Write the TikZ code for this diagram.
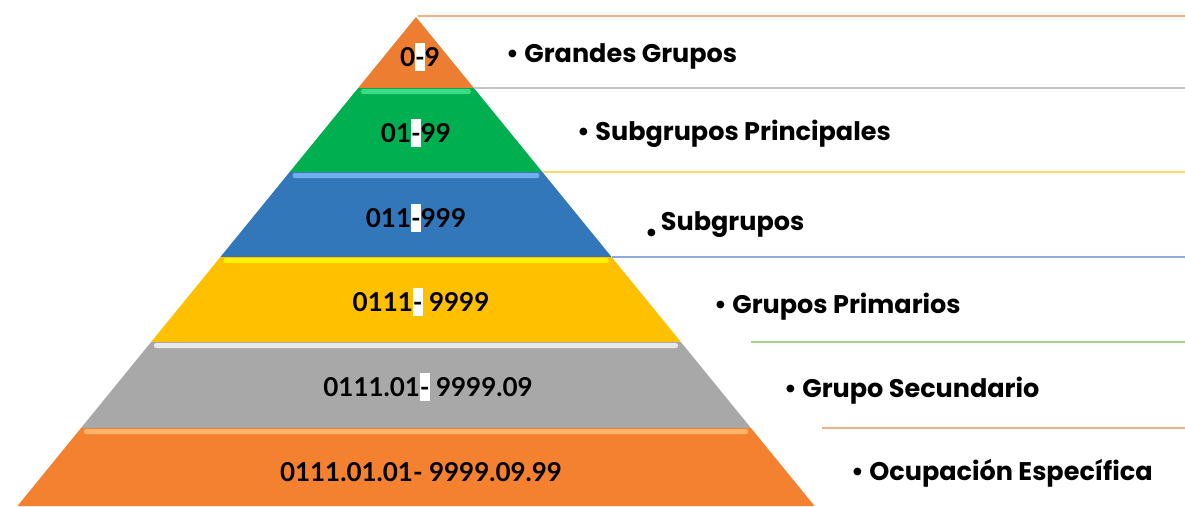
\documentclass[tikz,border=0pt]{standalone}
\usepackage{fontspec}
\usepackage{tikz}
\newfontfamily\numfont{Lato}
\newfontfamily\labfont{Poppins}

\definecolor{ortop}{HTML}{ED7D31}
\definecolor{grlayer}{HTML}{00B050}
\definecolor{bllayer}{HTML}{3277BA}
\definecolor{yelayer}{HTML}{FFC000}
\definecolor{gylayer}{HTML}{A8A8A8}
\definecolor{orbase}{HTML}{F4812F}
\definecolor{linor}{HTML}{F4B183}
\definecolor{lingy}{HTML}{C4C4C4}
\definecolor{linye}{HTML}{FFD966}
\definecolor{linbl}{HTML}{8FAADC}
\definecolor{lingr}{HTML}{A9D18E}
\definecolor{higr}{HTML}{3DDC84}
\definecolor{hibl}{HTML}{6FAEEA}
\definecolor{hiye}{HTML}{FFF200}
\definecolor{higy}{HTML}{E8E8E8}
\definecolor{hior}{HTML}{FFB56B}

% hyphen on a white patch
\newcommand{\wdash}{{\setlength{\fboxsep}{0pt}\colorbox{white}{\rule[-5pt]{0pt}{28pt}-}}}

\begin{document}
\begin{tikzpicture}[x=1pt,y=-1pt,
	num node/.style={font=\numfont\bfseries\fontsize{26}{28}\selectfont,inner sep=0pt,anchor=base},
	label node/.style={font=\labfont\bfseries\fontsize{25.5}{27}\selectfont,inner sep=0pt,anchor=base west},
	rim line/.style={line width=2pt}
]

	\def \midx {416};
	\def \topy {17};
	\def \slope {0.815};

	\useasboundingbox (0,0) rectangle (1185,506);

	% layers
	\foreach \t/\b/\c in {17/88/ortop,88/172/grlayer,172/257/bllayer,257/342/yelayer,342/428/gylayer,428/506/orbase} {
		\fill[\c] ({\midx-\slope*(\t-\topy)},\t) -- ({\midx+\slope*(\t-\topy)},\t) -- ({\midx+\slope*(\b-\topy)},\b) -- ({\midx-\slope*(\b-\topy)},\b) -- cycle;
	}
	\foreach \t/\c in {88/higr,172/hibl,257/hiye,342/higy,428/hior} {
		\fill[\c,rounded corners=2pt] ({\midx-\slope*(\t-\topy)+3},\t+1) rectangle ({\midx+\slope*(\t-\topy)-3},\t+6);
	}

	% rules on the right
	\foreach \y/\x/\c in {16/418/linor,88/474/lingy,172/543/linye,257/612/linbl,342/751/lingr,428/822/linor} {
		\draw[rim line,\c] (\x,\y) -- (1185,\y);
	}

	\node[num node] (n1) at (420,66) {0\wdash9};
	\node[num node] (n2) at (416,142) {01\wdash99};
	\node[num node] (n3) at (416,227) {011\wdash999};
	\node[num node] (n4) at (421,311) {0111\wdash{} 9999};
	\node[num node] (n5) at (428,396) {0111.01\wdash{} 9999.09};
	\node[num node] (n6) at (421,481) {0111.01.01- 9999.09.99};

	\node[label node] (l1) at (506,62) {• Grandes Grupos};
	\node[label node] (l2) at (577,140) {• Subgrupos Principales};
	\node[label node] (l3) at (645,230) {\raisebox{-11pt}{•}\hspace{3pt}Subgrupos};
	\node[label node] (l4) at (714,313) {• Grupos Primarios};
	\node[label node] (l5) at (784,397) {• Grupo Secundario};
	\node[label node] (l6) at (851,480) {• Ocupación Específica};
\end{tikzpicture}
\end{document}
